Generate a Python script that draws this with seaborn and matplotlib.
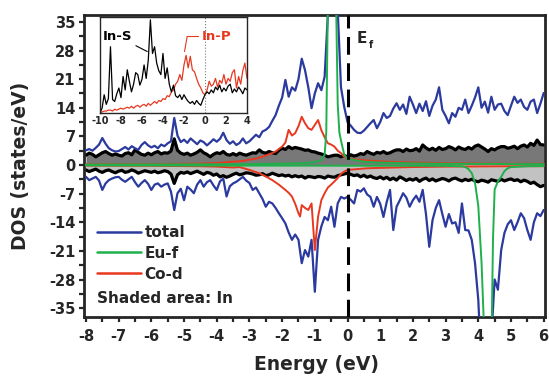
import numpy as np
import matplotlib
matplotlib.use("Agg")
import matplotlib.pyplot as plt
import seaborn as sns
from matplotlib.lines import Line2D
from matplotlib.ticker import MultipleLocator

# energy grid of the main panel (eV), 0.1 eV step
energy = np.round(np.arange(-8.0, 6.05, 0.1), 1)

# total DOS, spin up / spin down
total_up = [3.6, 3.9, 3.5, 4.2, 5.0, 6.6, 5.2, 4.1, 3.6, 3.3,
            3.4, 3.9, 4.4, 3.8, 4.6, 4.1, 3.7, 4.9, 5.6, 4.8,
            4.3, 4.7, 4.1, 5.0, 4.6, 5.3, 5.8, 11.5, 7.2, 5.6,
            6.2, 5.4, 6.5, 5.8, 5.1, 6.0, 5.6, 4.8, 5.5, 6.3,
            5.7, 6.4, 7.9, 6.1, 5.2, 5.8, 4.9, 5.4, 6.5, 5.3,
            5.8, 6.6, 7.4, 6.8, 8.2, 8.6, 9.3, 10.8, 12.2, 14.5,
            16.5, 20.8, 16.7, 19.0, 18.2, 21.0, 26.0, 23.2, 19.0, 13.9,
            17.5, 20.0, 18.3, 21.6, 37.0, 60.0, 60.0, 38.0, 19.0, 14.2,
            10.5, 9.6, 8.6, 7.9, 7.8, 8.4, 9.3, 10.2, 11.0, 9.0,
            10.5, 12.7, 11.5, 12.0, 13.8, 15.1, 13.5, 14.8, 12.5, 16.7,
            14.8, 12.7, 15.0, 13.2, 15.6, 12.0, 14.5, 16.0, 19.0, 13.5,
            12.0, 10.2, 12.7, 11.8, 14.0, 13.5, 16.0, 12.7, 14.5, 16.5,
            19.0, 14.0, 15.5, 12.8, 16.7, 13.5, 14.8, 15.0, 13.2, 12.2,
            14.5, 16.7, 15.2, 16.0, 14.2, 13.5, 15.5, 16.0, 12.7, 15.0,
            17.6]
total_dn = [-2.9, -3.7, -3.3, -2.9, -3.8, -6.1, -4.5, -3.7, -3.3, -3.0,
            -2.9, -3.6, -4.1, -3.5, -2.9, -4.2, -5.3, -4.4, -3.7, -4.6,
            -6.1, -4.8, -4.5, -5.3, -4.8, -4.5, -6.5, -11.0, -6.9, -5.8,
            -8.6, -5.3, -6.0, -6.9, -4.8, -3.7, -5.3, -4.2, -3.7, -5.0,
            -6.1, -4.0, -3.3, -7.7, -5.2, -4.5, -4.1, -3.5, -2.9, -3.8,
            -4.4, -6.1, -5.5, -6.9, -8.3, -10.2, -9.0, -9.4, -10.5, -11.8,
            -13.0, -14.3, -16.5, -18.3, -17.0, -18.3, -24.0, -20.8, -22.4, -18.3,
            -31.0, -18.3, -15.0, -12.7, -13.5, -10.2, -15.1, -9.4, -7.8, -8.2,
            -7.8, -8.5, -9.4, -6.1, -6.5, -5.7, -7.2, -7.8, -10.2, -7.8,
            -9.5, -12.7, -9.0, -6.1, -15.9, -10.2, -8.6, -6.9, -8.0, -10.2,
            -8.6, -7.5, -9.0, -6.1, -12.0, -20.0, -13.5, -10.5, -8.6, -12.0,
            -15.1, -12.0, -14.3, -14.0, -16.6, -9.4, -15.9, -16.0, -18.3, -24.0,
            -33.0, -50.0, -60.0, -60.0, -42.0, -28.0, -30.5, -20.8, -16.6, -14.5,
            -13.5, -15.9, -14.0, -11.8, -13.0, -15.9, -18.3, -14.0, -11.8, -12.5,
            -11.0]

# In partial DOS (shaded), spin up / spin down
in_up = [2.4, 2.9, 2.6, 2.0, 2.5, 3.0, 3.3, 2.8, 2.4, 2.7,
         2.4, 2.2, 2.8, 3.0, 2.5, 3.7, 3.1, 2.6, 2.4, 2.9,
         2.5, 3.0, 3.3, 2.7, 3.0, 2.9, 3.4, 6.4, 3.6, 2.9,
         2.6, 2.9, 2.4, 2.7, 3.1, 3.7, 3.0, 2.6, 2.0, 2.6,
         3.0, 2.8, 3.3, 2.6, 2.4, 2.8, 2.4, 2.9, 2.6, 2.4,
         2.7, 3.0, 2.9, 3.7, 3.1, 2.9, 3.3, 3.0, 2.8, 3.6,
         4.1, 3.8, 4.5, 4.0, 4.3, 4.1, 3.9, 3.6, 3.7, 3.3,
         3.2, 2.9, 2.7, 2.4, 2.0, 2.2, 2.4, 2.4, 2.0, 2.3,
         2.0, 2.5, 2.2, 2.4, 2.8, 2.6, 3.3, 2.9, 2.6, 3.1,
         2.9, 3.3, 2.8, 3.0, 3.4, 3.7, 3.7, 3.3, 3.9, 3.5,
         3.6, 4.0, 3.4, 4.9, 4.2, 3.7, 4.1, 3.6, 4.3, 3.8,
         4.0, 4.5, 4.2, 3.7, 4.4, 4.0, 3.8, 4.3, 3.9, 4.6,
         4.9, 4.4, 3.9, 3.3, 4.0, 3.7, 4.2, 4.5, 4.5, 4.1,
         4.3, 4.6, 4.0, 4.6, 4.9, 4.4, 5.3, 4.8, 6.1, 5.0,
         4.9]
in_dn = [-1.2, -1.6, -1.3, -1.0, -1.5, -1.8, -1.4, -1.2, -1.6, -1.9,
         -1.5, -1.3, -1.8, -1.6, -1.2, -1.5, -2.0, -1.7, -1.4, -1.6,
         -1.8, -1.5, -1.9, -1.7, -1.4, -1.6, -2.2, -4.5, -2.4, -1.8,
         -2.0, -1.7, -2.1, -1.8, -1.5, -1.9, -2.3, -1.8, -2.0, -2.5,
         -2.2, -2.9, -2.6, -3.0, -2.7, -2.3, -2.0, -2.4, -2.2, -1.9,
         -2.0, -2.2, -2.5, -2.4, -2.1, -2.6, -2.4, -2.0, -2.3, -2.6,
         -2.4, -2.7, -2.5, -2.9, -2.6, -2.9, -2.7, -3.2, -2.8, -2.9,
         -3.1, -2.8, -2.9, -3.2, -2.7, -2.9, -3.0, -2.6, -2.4, -2.2,
         -2.0, -2.3, -2.6, -2.4, -2.9, -2.5, -3.0, -2.7, -3.1, -3.3,
         -2.9, -3.4, -3.0, -3.6, -3.2, -3.7, -2.9, -3.3, -3.8, -3.4,
         -3.7, -3.3, -4.0, -3.5, -3.2, -3.8, -3.4, -3.9, -3.6, -3.3,
         -3.5, -3.9, -3.4, -3.2, -3.6, -3.9, -3.5, -3.8, -3.5, -3.9,
         -4.1, -3.7, -3.9, -4.2, -3.6, -3.8, -4.0, -3.5, -3.9, -3.6,
         -3.4, -3.8, -3.6, -4.1, -3.7, -4.0, -4.5, -4.2, -4.8, -5.3,
         -5.0]

# Co-d partial DOS
co_e_up = [-8.0, -6.0, -4.5, -4.0, -3.5, -3.2, -3.0, -2.8, -2.6, -2.4, -2.2, -2.0,
           -1.9, -1.8, -1.7, -1.6, -1.5, -1.4, -1.3, -1.2, -1.1, -1.0, -0.9, -0.8,
           -0.7, -0.6, -0.5, -0.4, -0.3, -0.2, -0.1, 0.0, 0.3, 0.6, 1.0, 1.5, 2.0,
           3.0, 4.0, 5.0, 6.0]
co_up = [0.15, 0.2, 0.35, 0.5, 0.8, 1.0, 1.3, 1.6, 2.0, 2.6, 3.3, 4.5,
         5.5, 8.6, 7.2, 7.8, 9.5, 11.8, 10.2, 9.0, 8.6, 9.8, 11.0, 8.5,
         6.8, 5.3, 5.0, 4.5, 3.5, 2.9, 2.0, 1.6, 1.3, 1.1, 0.9, 0.7, 0.6,
         0.45, 0.35, 0.3, 0.3]
co_e_dn = [-8.0, -6.0, -4.5, -4.0, -3.5, -3.3, -3.0, -2.7, -2.5, -2.3, -2.1, -1.9,
           -1.8, -1.7, -1.6, -1.5, -1.45, -1.4, -1.3, -1.2, -1.1, -1.0, -0.9, -0.8,
           -0.7, -0.6, -0.5, -0.4, -0.3, -0.2, -0.1, 0.0, 0.3, 0.6, 1.0, 2.0, 3.0,
           4.0, 5.0, 6.0]
co_dn = [-0.15, -0.2, -0.3, -0.4, -0.6, -0.5, -1.2, -2.0, -2.8, -3.7, -4.8, -6.1,
         -6.8, -7.7, -9.5, -11.8, -12.6, -9.8, -10.5, -11.0, -9.4, -20.8, -12.6, -8.6,
         -6.9, -5.5, -4.8, -4.0, -3.2, -2.2, -1.6, -1.2, -1.0, -0.8, -0.7, -0.5, -0.4,
         -0.35, -0.3, -0.3]

# Eu-f partial DOS
eu_e_up = [-8.0, -3.0, -1.5, -1.0, -0.8, -0.7, -0.65, -0.6, -0.55, -0.5, -0.45,
           -0.4, -0.35, -0.3, -0.25, -0.2, -0.1, 0.0, 0.5, 1.0, 2.0, 3.0, 6.0]
eu_up = [0.1, 0.2, 0.4, 0.7, 1.2, 2.5, 8.0, 40.0, 70.0, 80.0, 80.0,
         70.0, 40.0, 15.0, 8.0, 6.0, 2.5, 1.5, 0.8, 0.6, 0.4, 0.3, 0.2]
eu_e_dn = [-8.0, 3.0, 3.5, 3.6, 3.7, 3.8, 3.9, 4.0, 4.1, 4.2, 4.3, 4.4, 4.45,
           4.5, 4.6, 4.7, 4.8, 4.9, 5.0, 5.5, 6.0]
eu_dn = [-0.1, -0.2, -0.3, -0.5, -1.0, -2.0, -4.4, -10.0, -24.0, -45.0, -80.0, -45.0, -18.0,
         -6.0, -4.0, -2.9, -1.5, -0.8, -0.5, -0.3, -0.25]

# inset: In-S and In-P (arbitrary units)
inset_e = np.round(np.arange(-10.0, 4.05, 0.2), 1)
in_s = [0.00, 0.05, 0.19, 0.09, 0.15, 0.69, 0.14, 0.12, 0.20, 0.26,
        0.16, 0.38, 0.24, 0.45, 0.33, 0.22, 0.30, 0.42, 0.40, 0.29,
        0.35, 0.50, 0.36, 0.55, 0.97, 0.62, 0.69, 0.52, 0.44, 0.40,
        0.62, 0.36, 0.47, 0.30, 0.22, 0.29, 0.18, 0.16, 0.19, 0.14,
        0.19, 0.15, 0.12, 0.10, 0.12, 0.09, 0.13, 0.10, 0.08, 0.14,
        0.19, 0.22, 0.20, 0.24, 0.21, 0.27, 0.24, 0.29, 0.22, 0.26,
        0.23, 0.28, 0.30, 0.21, 0.25, 0.22, 0.27, 0.24, 0.20, 0.26,
        0.24]
in_p = [0.00, 0.01, 0.02, 0.02, 0.03, 0.03, 0.02, 0.04, 0.03, 0.04,
        0.05, 0.04, 0.05, 0.06, 0.05, 0.07, 0.05, 0.07, 0.08, 0.06,
        0.08, 0.09, 0.07, 0.10, 0.08, 0.10, 0.12, 0.10, 0.13, 0.12,
        0.15, 0.14, 0.18, 0.17, 0.22, 0.24, 0.30, 0.33, 0.40, 0.34,
        0.50, 0.60, 0.47, 0.59, 0.45, 0.43, 0.36, 0.30, 0.26, 0.21,
        0.19, 0.24, 0.33, 0.28, 0.30, 0.36, 0.27, 0.34, 0.31, 0.40,
        0.30, 0.36, 0.33, 0.42, 0.45, 0.26, 0.38, 0.30, 0.44, 0.52,
        0.36]

c_total = '#2b3a9e'
c_eu = '#1fb04c'
c_co = '#e8381f'

sns.set_style("ticks")
plt.rcParams['font.family'] = ['DejaVu Sans']
plt.rcParams['font.weight'] = 'bold'
plt.rcParams['axes.labelweight'] = 'bold'
plt.rcParams['axes.unicode_minus'] = False

fig = plt.figure(figsize=(5.49, 3.83), dpi=100)
ax = fig.add_axes([0.153, 0.172, 0.8397, 0.789])

# shaded In DOS
ax.fill_between(energy, 0, in_up, color='#787878', lw=0, zorder=1)
ax.fill_between(energy, 0, in_dn, color='#c2c2c2', lw=0, zorder=1)
sns.lineplot(x=energy, y=in_up, ax=ax, color='black', lw=2.3, sort=False, zorder=2)
sns.lineplot(x=energy, y=in_dn, ax=ax, color='black', lw=2.3, sort=False, zorder=2)

sns.lineplot(x=energy, y=total_up, ax=ax, color=c_total, lw=1.6, sort=False, zorder=3)
sns.lineplot(x=energy, y=total_dn, ax=ax, color=c_total, lw=1.6, sort=False, zorder=3)
sns.lineplot(x=co_e_up, y=co_up, ax=ax, color=c_co, lw=1.4, sort=False, zorder=4)
sns.lineplot(x=co_e_dn, y=co_dn, ax=ax, color=c_co, lw=1.4, sort=False, zorder=4)
sns.lineplot(x=eu_e_up, y=eu_up, ax=ax, color=c_eu, lw=1.4, sort=False, zorder=5)
sns.lineplot(x=eu_e_dn, y=eu_dn, ax=ax, color=c_eu, lw=1.4, sort=False, zorder=5)

# Fermi level
ax.axvline(0, color='black', lw=2.2, ls=(0, (5.8, 2.8)), zorder=6)
ax.text(0.28, 29.8, 'E', fontsize=11, fontweight='bold')
ax.text(0.64, 28.6, 'f', fontsize=7, fontweight='bold')

ax.set_xlim(-8.06, 6.04)
ax.set_ylim(-37.2, 36.7)
ax.xaxis.set_major_locator(MultipleLocator(1))
ax.xaxis.set_minor_locator(MultipleLocator(0.5))
ax.yaxis.set_major_locator(MultipleLocator(7))
ax.yaxis.set_minor_locator(MultipleLocator(3.5))
ax.tick_params(which='both', direction='out', width=1.6, length=3.5,
               labelsize=10.5, top=False, right=False)
ax.tick_params(axis='x', pad=5)
ax.tick_params(axis='y', pad=2.5)
for lab in ax.get_xticklabels() + ax.get_yticklabels():
    lab.set_fontweight('bold')
for sp in ax.spines.values():
    sp.set_visible(True)
    sp.set_linewidth(2.0)
ax.set_xlabel('')
ax.set_ylabel('')

fig.text(0.038, 0.567, 'DOS (states/eV)', rotation=90, ha='center', va='center',
         fontsize=13.5, fontweight='bold')
fig.text(0.577, 0.047, 'Energy (eV)', ha='center', va='center',
         fontsize=13.5, fontweight='bold')

handles = [Line2D([], [], color=c_total, lw=1.8),
           Line2D([], [], color=c_eu, lw=1.8),
           Line2D([], [], color=c_co, lw=1.8)]
ax.legend(handles, ['total', 'Eu-f', 'Co-d'], loc='upper left',
          bbox_to_anchor=(0.028, 0.305), frameon=False,
          handlelength=2.9, handletextpad=0.2, labelspacing=0.38,
          borderpad=0, borderaxespad=0, prop={'weight': 'bold', 'size': 11})
ax.text(0.028, 0.063, 'Shaded area: In', transform=ax.transAxes,
        fontsize=11, fontweight='bold', va='center', ha='left')

# inset
ax_in = fig.add_axes([0.1821, 0.705, 0.2678, 0.2507])
ax_in.set_facecolor('white')
sns.lineplot(x=inset_e, y=in_p, ax=ax_in, color=c_co, lw=0.9, sort=False)
sns.lineplot(x=inset_e, y=in_s, ax=ax_in, color='black', lw=0.9, sort=False)
ax_in.axvline(0, color='#777777', lw=0.8, ls=':')
ax_in.set_xlim(-10, 4)
ax_in.set_ylim(0, 1.0)
ax_in.set_xticks([-10, -8, -6, -4, -2, 0, 2, 4])
ax_in.set_yticks([])
ax_in.tick_params(axis='x', length=0, pad=2, labelsize=7)
for lab in ax_in.get_xticklabels():
    lab.set_fontweight('bold')
for sp in ax_in.spines.values():
    sp.set_visible(True)
    sp.set_linewidth(1.0)
ax_in.set_xlabel('')
ax_in.set_ylabel('')
ax_in.annotate('In-S', xy=(-5.5, 0.64), xytext=(-9.7, 0.76), fontsize=9.5,
               fontweight='bold', color='black',
               arrowprops=dict(arrowstyle='-', color='black', lw=0.8,
                               shrinkA=0, shrinkB=0))
ax_in.annotate('In-P', xy=(-1.95, 0.64), xytext=(-0.3, 0.76), fontsize=9.5,
               fontweight='bold', color=c_co,
               arrowprops=dict(arrowstyle='-', color=c_co, lw=0.8,
                               shrinkA=0, shrinkB=0,
                               connectionstyle='angle,angleA=0,angleB=80'))

fig.savefig('out.png', dpi=100)
